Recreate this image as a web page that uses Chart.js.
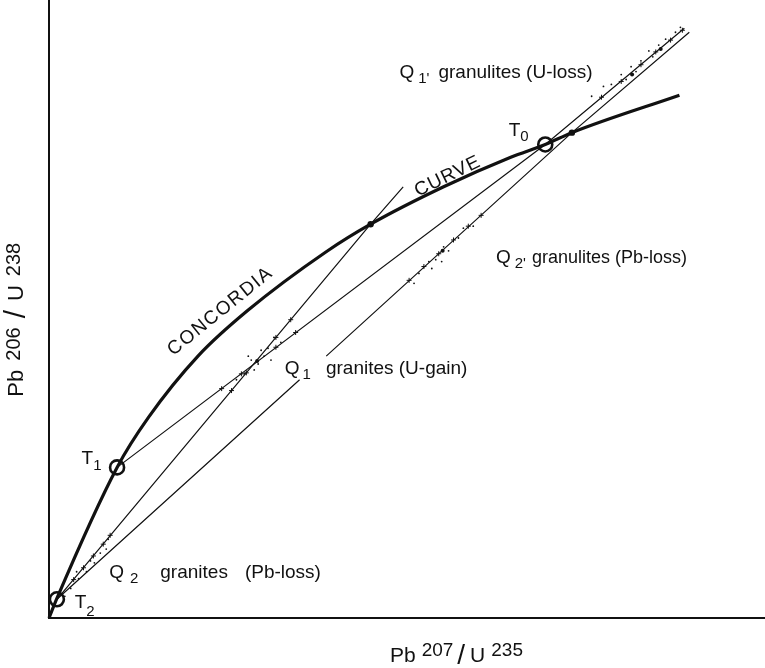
<!DOCTYPE html>
<html><head><meta charset="utf-8">
<script src="https://cdn.jsdelivr.net/npm/chart.js@4.4.1/dist/chart.umd.min.js"></script>
<style>html,body{margin:0;padding:0;background:#fff;}</style>
</head><body>
<canvas id="c" width="765" height="668"></canvas>
<script>
// ---- data (Pb207/U235 on x, Pb206/U238 on y, arbitrary units) ----
const concordiaX = [0, 0.08, 0.69, 1.01, 1.51, 2.01, 2.81, 3.26, 4.00, 4.68, 5.03, 5.30, 6.39];
const concordiaY = [0, 0.20, 1.53, 2.04, 2.66, 3.12, 3.72, 4.00, 4.38, 4.68, 4.81, 4.93, 5.31];

const anchorNames = ["T2", "T1", "T0"];
const anchorX = [0.08, 0.69, 5.03];
const anchorY = [0.19, 1.53, 4.81];

const interceptX = [3.26, 5.30];
const interceptY = [4.00, 4.93];

// discordia lines
const steepLineX = [0.08, 3.26, 3.59];
const steepLineY = [0.19, 4.00, 4.38];
const t1LineX = [0.69, 5.03, 6.44];
const t1LineY = [1.53, 4.81, 5.99];
const lowerLineX = [0.08, 2.54, null, 2.81, 5.30, 6.49];
const lowerLineY = [0.19, 2.42, null, 2.66, 4.93, 5.95];

// analyses: crosses on lines and scattered dots
const crossX = [0.25,0.35,0.45,0.55,0.62, 1.85,2.0,2.3,2.45, 1.75,1.95,2.3,2.5, 3.65,3.8,3.95,4.1,4.25,4.38, 5.6,5.8,6.0,6.15,6.3,6.42];
const crossY = [0.39,0.51,0.63,0.75,0.84, 2.31,2.49,2.85,3.03, 2.33,2.48,2.75,2.90, 3.43,3.57,3.70,3.84,3.98,4.09, 5.29,5.45,5.62,5.75,5.87,5.97];
const dotX = [0.22,0.30,0.38,0.46,0.52,0.58,0.28,0.42,0.16,0.60,
              2.05,2.12,2.18,2.08,2.22,1.98,2.25,2.35,1.90,2.15,2.02,2.28,
              3.75,3.85,3.92,4.00,4.05,4.15,4.20,3.70,4.30,3.98,3.88,
              5.50,5.62,5.70,5.80,5.90,6.00,6.08,6.18,6.25,6.35,5.95,6.12,6.40,5.85];
const dotY = [0.30,0.40,0.47,0.56,0.66,0.70,0.47,0.58,0.22,0.80,
              2.62,2.58,2.66,2.52,2.74,2.48,2.62,2.80,2.42,2.72,2.66,2.85,
              3.50,3.62,3.64,3.77,3.73,3.86,3.96,3.40,3.98,3.62,3.55,
              5.30,5.40,5.42,5.52,5.60,5.66,5.76,5.82,5.88,5.95,5.55,5.70,6.00,5.47];
const bigDotX = [2.11, 3.99, 5.91, 6.20];
const bigDotY = [2.61, 3.73, 5.52, 5.78];

function pts(xs, ys){ return xs.map((x,i)=> x===null ? {x:null,y:null} : {x:x, y:ys[i]}); }

const FONT = '"Liberation Sans", Arial, Helvetica, sans-serif';

// text annotations (data coordinates), segments: [text, size, dy, gapBefore]
const labels = [
  {x:5.51, y:5.49, align:'right', segs:[["Q",19,0],["1'",15,5,4],["granulites (U-loss)",19,0,9]]},
  {x:4.66, y:4.90, segs:[["T",19,0],["0",15,5]]},
  {x:3.74, y:4.28, angle:-26, spacing:1, segs:[["CURVE",19,0]]},
  {x:4.53, y:3.61, segs:[["Q",19,0],["2'",15,5,4],["granulites (Pb-loss)",18,0,6]]},
  {x:1.26, y:2.66, angle:-39, spacing:1.5, segs:[["CONCORDIA",19,0]]},
  {x:2.39, y:2.48, segs:[["Q",19,0],["1",15,5,3],["granites (U-gain)",19,0,15]]},
  {x:0.33, y:1.56, segs:[["T",19,0],["1",15,6]]},
  {x:0.61, y:0.41, segs:[["Q",19,0],["2",15,5,6],["granites",19,0,22],["(Pb-loss)",19,0,17]]},
  {x:0.26, y:0.10, segs:[["T",19,0],["2",15,8]]},
  {x:-0.26, y:3.03, angle:-90, align:'center', segs:[["Pb",22,0],["206",20,-3,9],["/",30,2,9],["U",22,0,9],["238",20,-3,9]]},
  {x:4.13, y:-0.45, align:'center', segs:[["Pb",21,0],["207",19,-6,6],["/",28,2,4],["U",21,0,5],["235",19,-6,6]]}
];

function drawRich(ctx, x, y, segs, angle, align, spacing){
  ctx.save();
  ctx.translate(x, y);
  if (angle) ctx.rotate(angle*Math.PI/180);
  if (spacing && 'letterSpacing' in ctx) ctx.letterSpacing = spacing + 'px';
  let total = 0;
  const ws = segs.map(s=>{ ctx.font = s[1]+'px '+FONT; const w = ctx.measureText(s[0]).width; total += w + (s[3]||0); return w; });
  let cx = align==='center' ? -total/2 : (align==='right' ? -total : 0);
  ctx.fillStyle = '#111';
  ctx.textBaseline = 'alphabetic';
  segs.forEach((s,i)=>{
    ctx.font = s[1]+'px '+FONT;
    cx += (s[3]||0);
    ctx.fillText(s[0], cx, s[2]||0);
    cx += ws[i];
  });
  ctx.restore();
}

const decor = {
  id:'decor',
  beforeDatasetsDraw(chart){
    const {ctx, chartArea:a} = chart;
    ctx.save();
    ctx.strokeStyle = '#111';
    ctx.lineWidth = 2;
    ctx.beginPath();
    ctx.moveTo(a.left, 0);
    ctx.lineTo(a.left, a.bottom);
    ctx.lineTo(chart.width, a.bottom);
    ctx.stroke();
    ctx.restore();
  },
  afterDatasetsDraw(chart){
    const {ctx, scales:{x, y}} = chart;
    labels.forEach(l=> drawRich(ctx, x.getPixelForValue(l.x), y.getPixelForValue(l.y), l.segs, l.angle||0, l.align||'left', l.spacing||0));
  }
};

const thin = {showLine:true, borderColor:'#111', borderWidth:1.2, pointRadius:0, fill:false, spanGaps:false};

new Chart(document.getElementById('c'), {
  type:'scatter',
  data:{datasets:[
    {...thin, data:pts(steepLineX, steepLineY)},
    {...thin, data:pts(t1LineX, t1LineY)},
    {...thin, data:pts(lowerLineX, lowerLineY)},
    {showLine:true, data:pts(concordiaX, concordiaY), borderColor:'#111', borderWidth:3.2, pointRadius:0, cubicInterpolationMode:'monotone', fill:false},
    {data:pts(crossX, crossY), pointStyle:'cross', pointRadius:2.5, borderColor:'#111', borderWidth:1, showLine:false},
    {data:pts(dotX, dotY), pointStyle:'circle', pointRadius:0.9, backgroundColor:'#111', borderWidth:0, showLine:false},
    {data:pts(bigDotX, bigDotY), pointStyle:'circle', pointRadius:2, backgroundColor:'#111', borderWidth:0, showLine:false},
    {data:pts(interceptX, interceptY), pointStyle:'circle', pointRadius:3.2, backgroundColor:'#111', borderWidth:0, showLine:false},
    {label:'anchors', data:pts(anchorX, anchorY), pointStyle:'circle', pointRadius:7, backgroundColor:'rgba(0,0,0,0)', borderColor:'#111', borderWidth:2.6, showLine:false}
  ]},
  options:{
    responsive:false, animation:false, devicePixelRatio:1,
    layout:{padding:{left:49, right:0, top:0, bottom:50}},
    plugins:{legend:{display:false}, tooltip:{enabled:false}},
    scales:{
      x:{type:'linear', min:0, max:7.16, display:false},
      y:{type:'linear', min:0, max:6.18, display:false}
    },
    elements:{line:{tension:0}},
    datasets:{scatter:{clip:false}}
  },
  plugins:[decor]
});
</script>
</body></html>
